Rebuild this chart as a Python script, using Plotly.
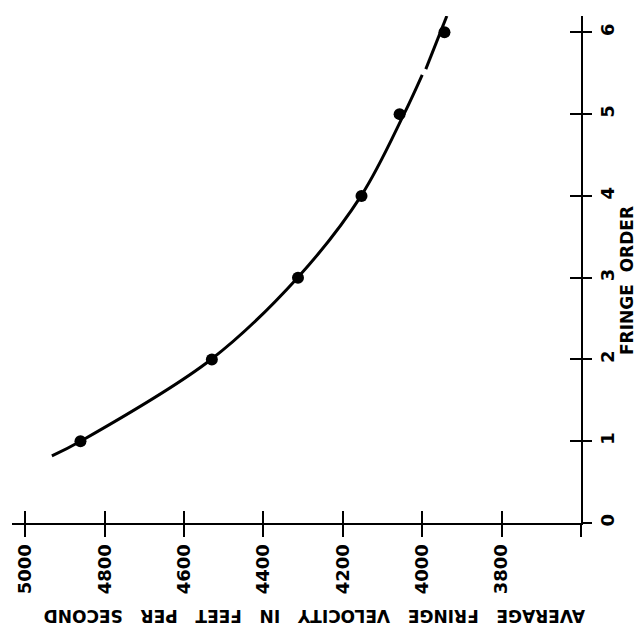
import plotly.graph_objects as go

# Measured points (fringe order vs average fringe velocity, ft/s)
fringe_order = [1, 2, 3, 4, 5, 6]
velocity = [4861, 4530, 4313, 4153, 4057, 3944]

# Smooth fitted curve; None marks the small break in the line
curve_velocity = [4933, 4861, 4532, 4314, 4154, 4046, 4000, None, 3991, 3938]
curve_fringe = [0.82, 1.0, 2.0, 3.0, 4.0, 5.0, 5.48, None, 5.55, 6.2]

x_ticks = [5000, 4800, 4600, 4400, 4200, 4000, 3800, 3600]
x_ticktext = ["5000", "4800", "4600", "4400", "4200", "4000", "3800", ""]
y_ticks = [0, 1, 2, 3, 4, 5, 6]
y_ticktext = ["0", "1", "2", "3", "4", "5", "6"]

x_title_words = ["AVERAGE", "FRINGE", "VELOCITY", "IN", "FEET", "PER", "SECOND"]
y_title_words = ["FRINGE", "ORDER"]

FONT = "DejaVu Sans"
tickfont = dict(family=FONT, size=18, color="black", weight="bold")

fig = go.Figure()
fig.add_trace(go.Scatter(
    x=curve_velocity, y=curve_fringe, mode="lines",
    line=dict(color="black", width=3, shape="spline", smoothing=1.0),
    connectgaps=False, hoverinfo="skip", showlegend=False))
fig.add_trace(go.Scatter(
    x=velocity, y=fringe_order, mode="markers",
    marker=dict(color="black", size=12), showlegend=False))
# invisible trace so the overlay axes (cross-tick halves) get drawn
fig.add_trace(go.Scatter(
    x=velocity, y=fringe_order, xaxis="x2", yaxis="y2", mode="markers",
    marker=dict(opacity=0, size=1), hoverinfo="skip", showlegend=False))

xr = [5033.5, 3600]
yr = [0, 6.2]
common = dict(showgrid=False, zeroline=False, showline=True, linecolor="black",
              linewidth=2, tickcolor="black", tickwidth=2)

fig.update_layout(
    width=639, height=631,
    margin=dict(l=12, r=58, t=16, b=108),
    paper_bgcolor="white", plot_bgcolor="white",
    xaxis=dict(range=xr, tickvals=x_ticks, ticktext=x_ticktext, ticks="outside",
               ticklen=12, tickangle=-90, tickfont=tickfont, anchor="y", **common),
    yaxis=dict(range=yr, tickvals=y_ticks, ticktext=y_ticktext, side="right",
               ticks="outside", ticklen=9, tickangle=-90, tickfont=tickfont,
               anchor="x", **common),
    xaxis2=dict(range=xr, tickvals=x_ticks, ticks="inside", ticklen=12,
                showticklabels=False, overlaying="x", side="bottom", anchor="y2", **common),
    yaxis2=dict(range=yr, tickvals=y_ticks, ticks="inside", ticklen=11,
                showticklabels=False, overlaying="y", side="right", anchor="x2", **common),
    annotations=[
        dict(text="\u00a0\u00a0\u00a0".join(x_title_words), textangle=180,
             xref="paper", yref="paper", x=(315 - 12) / 569, y=(523 - 616.5) / 507,
             showarrow=False, font=dict(family=FONT, size=17, color="black", weight="bold"),
             xanchor="center", yanchor="middle"),
        dict(text="\u00a0\u00a0".join(y_title_words), textangle=-90,
             xref="paper", yref="paper", x=(627 - 12) / 569, y=(523 - 281) / 507,
             showarrow=False, font=dict(family=FONT, size=17, color="black", weight="bold"),
             xanchor="center", yanchor="middle"),
    ],
)

fig.write_html("out.html")
